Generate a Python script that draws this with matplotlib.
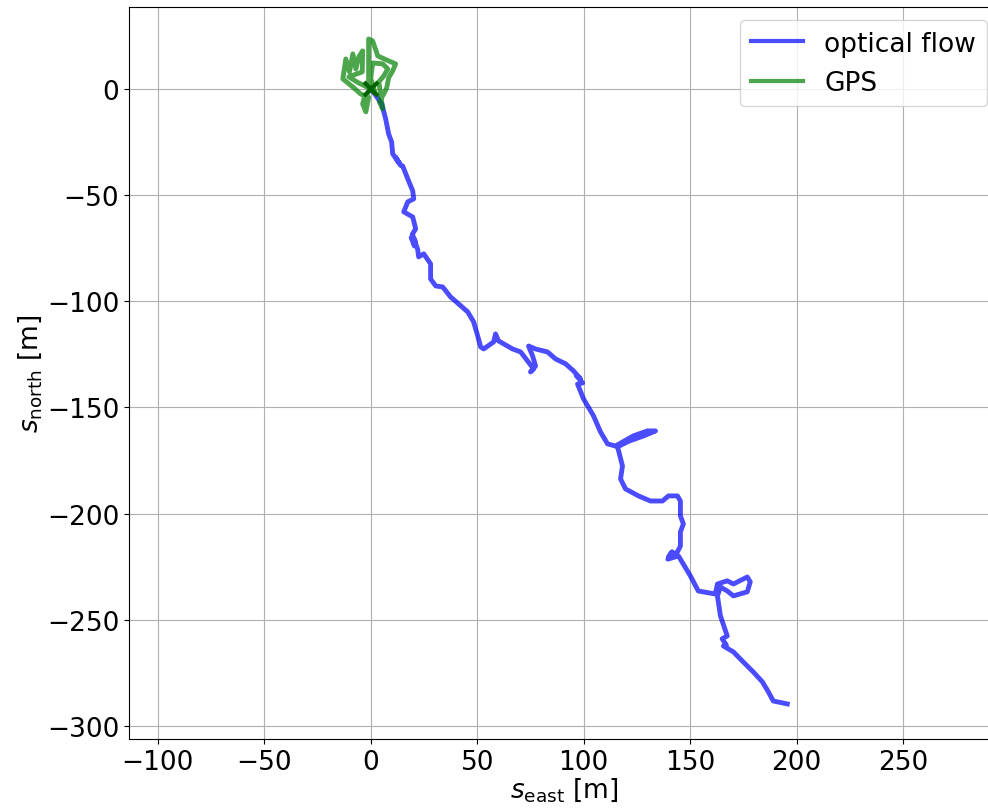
import matplotlib.pyplot as plt

# optical flow track [m]
flow_east = [0.0, 0.9, 5.2, 7.0, 8.4, 9.8, 10.3, 12.7, 11.5, 13.5, 12.0, 14.0, 15.0, 17.4,
             19.7, 20.2, 17.4, 15.5, 19.7, 21.1, 19.5, 21.0, 19.0, 20.5, 20.2, 22.0, 22.5,
             24.9, 28.1, 28.1, 30.5, 33.8, 37.5, 45.5, 48.3, 50.2, 51.6, 53.0, 57.7, 58.6,
             60.0, 66.6, 70.4, 73.6, 76.5, 75.0, 77.4, 76.0, 74.1, 77.4, 83.0, 86.8, 91.5,
             95.2, 98.5, 96.5, 99.5, 97.1, 99.9, 104.6, 107.9, 111.2, 114.9, 123.4, 129.9,
             133.7, 128.0, 121.0, 115.9, 118.2, 117.3, 119.6, 125.7, 131.3, 137.0, 139.8,
             144.0, 145.4, 145.4, 146.8, 145.4, 145.4, 144.0, 139.8, 141.5, 139.5, 144.5,
             150.1, 153.8, 161.8, 162.8, 167.4, 170.3, 176.8, 178.2, 176.8, 170.3, 167.4,
             164.2, 162.8, 164.2, 167.4, 165.0, 167.0, 165.6, 170.3, 174.9, 179.6, 183.9,
             186.7, 189.0, 195.6]
flow_north = [0.0, -1.0, -7.1, -14.1, -21.2, -25.0, -30.6, -33.9, -32.0, -35.0, -33.0,
              -36.0, -36.3, -42.4, -48.0, -51.8, -53.2, -57.9, -60.3, -65.9, -68.5, -72.0,
              -70.0, -74.0, -70.7, -75.4, -79.1, -77.7, -82.4, -89.5, -92.8, -93.3, -98.0,
              -105.0, -109.7, -116.3, -121.5, -122.5, -119.2, -115.4, -118.7, -122.5,
              -123.9, -128.1, -131.9, -133.3, -130.5, -125.8, -121.1, -122.5, -123.9,
              -127.2, -129.5, -132.8, -136.6, -135.0, -138.5, -139.0, -146.0, -154.0,
              -161.6, -167.2, -168.2, -163.4, -161.1, -161.1, -163.5, -166.0, -168.6,
              -177.6, -183.7, -188.4, -191.7, -194.1, -194.1, -191.7, -191.7, -194.1,
              -201.1, -204.9, -208.7, -215.3, -218.1, -220.4, -218.0, -221.5, -220.0,
              -229.4, -236.5, -237.9, -233.2, -231.7, -233.2, -229.9, -232.2, -236.9,
              -238.8, -236.5, -234.6, -238.8, -248.2, -257.7, -259.0, -262.0, -262.4,
              -265.2, -269.9, -274.6, -279.3, -284.0, -288.3, -289.7]

# GPS track [m]
gps_east = [0.0, -3.0, -3.8, -2.3, -1.0, -4.7, -8.4, -13.1, -11.7, -10.0, -8.4, -7.0, -5.6,
            -3.8, -4.0, -10.3, -6.0, -1.0, -1.0, -1.0, 0.9, 3.3, 8.4, 11.7, 10.3, 8.4, 7.5,
            6.1, 4.0, 5.6, 3.8, 6.1, 8.0, 5.6, 0.9, 0.0, 2.0, 0.0]
gps_north = [0.0, -4.0, -7.1, -10.8, -4.0, -2.4, 0.9, 4.7, 14.1, 8.0, 16.5, 9.4, 15.1, 17.9,
             8.0, 5.7, 3.0, 0.5, 12.0, 23.5, 22.6, 15.5, 13.2, 11.8, 8.5, 5.2, 0.5, -2.4,
             -6.0, -9.4, 3.3, 6.1, 9.4, 11.8, 12.2, 5.0, -2.0, 0.0]

plt.rcParams['font.size'] = 19

fig = plt.figure(figsize=(9.88, 8.12), dpi=100)
ax = fig.add_axes([0.1306, 0.0887, 0.8816, 0.9015])

ax.plot(flow_east, flow_north, color='blue', alpha=0.7, lw=3.5, label='optical flow')
ax.plot(gps_east, gps_north, color='green', alpha=0.7, lw=3.5, label='GPS')
ax.plot([0], [0], marker='x', color='darkgreen', ms=10, mew=3)

ax.set_xlim(-113.5, 295.5)
ax.set_ylim(-306.2, 38.6)
ax.set_xticks([-100, -50, 0, 50, 100, 150, 200, 250])
ax.set_yticks([-300, -250, -200, -150, -100, -50, 0])
ax.grid(True)
ax.set_xlabel(r'$s_{\mathrm{east}}$ [m]', labelpad=0)
ax.set_ylabel(r'$s_{\mathrm{north}}$ [m]', labelpad=2)
leg = ax.legend(loc='upper right')
for line in leg.get_lines():
    line.set_linewidth(3)

fig.savefig('out.png', dpi=100)
